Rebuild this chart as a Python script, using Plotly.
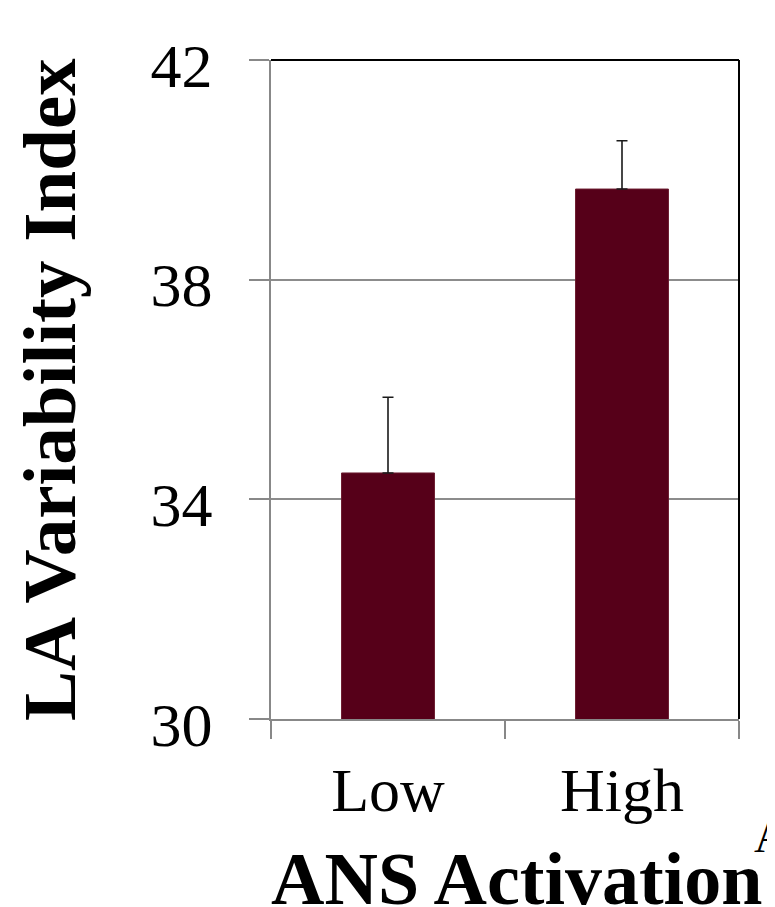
import plotly.graph_objects as go

categories = ["Low", "High"]
values = [34.48, 39.65]
errors = [1.38, 0.88]
y_ticks = [30, 34, 38, 42]

# page body has an 8px margin, so the figure is sized to the visible area
W, H = 767, 899
L, T, R, B = 263, 52, 36, 188
PW = W - L - R
PH = H - T - B

fig = go.Figure()
fig.add_trace(go.Bar(
    x=categories, y=values,
    marker=dict(color="#560019", line=dict(color="#6a1a2e", width=1)),
    error_y=dict(type="data", array=errors, symmetric=False, arrayminus=[0, 0],
                 color="#1a1a1a", thickness=1.6, width=5.5),
))

FONT = "Liberation Serif, Times New Roman, serif"
fig.update_layout(
    width=W, height=H,
    margin=dict(l=L, r=R, t=T, b=B),
    paper_bgcolor="white", plot_bgcolor="white",
    showlegend=False, bargap=0.603,
    font=dict(family=FONT, color="black"),
)
fig.update_xaxes(
    showgrid=False, showline=True, linecolor="#888888", linewidth=2,
    ticks="outside", tickson="boundaries", ticklen=18, tickcolor="#888888", tickwidth=2,
    tickfont=dict(family=FONT, size=62, color="black"), ticklabelstandoff=16,
)
fig.update_yaxes(
    range=[30, 42], tickvals=y_ticks, ticktext=[str(v) for v in y_ticks],
    showgrid=True, gridcolor="#8c8c8c", gridwidth=1.5,
    showline=True, linecolor="#888888", linewidth=2,
    ticks="outside", ticklen=20, tickcolor="#888888", tickwidth=2,
    tickfont=dict(family=FONT, size=62, color="black"), ticklabelstandoff=24,
    ticklabelshift=5, zeroline=False,
)
# top and right border
fig.add_shape(type="line", xref="paper", yref="paper", x0=0, x1=1, y0=1, y1=1,
              line=dict(color="black", width=2), layer="above")
fig.add_shape(type="line", xref="paper", yref="paper", x0=1, x1=1, y0=0, y1=1,
              line=dict(color="black", width=2), layer="above")

# screen coords -> paper coords (screen = figure + 8)
def px(xs):
    return (xs - 8 - L) / PW

def py(ys):
    return (H - B - (ys - 8)) / PH

fig.add_annotation(text="<b>ANS Activation</b>", xref="paper", yref="paper",
                   x=px(516), y=py(879), xanchor="center", yanchor="middle",
                   showarrow=False, font=dict(family=FONT, size=74, color="black"))
fig.add_annotation(text="<b>LA Variability Index</b>", xref="paper", yref="paper",
                   x=px(49), y=py(390), xanchor="center", yanchor="middle",
                   textangle=-90, showarrow=False, font=dict(family=FONT, size=75, color="black"))
fig.add_annotation(text="A", xref="paper", yref="paper",
                   x=px(752), y=py(836), xanchor="left", yanchor="middle",
                   showarrow=False, font=dict(family=FONT, size=46, color="black"))

fig.write_html("out.html")
